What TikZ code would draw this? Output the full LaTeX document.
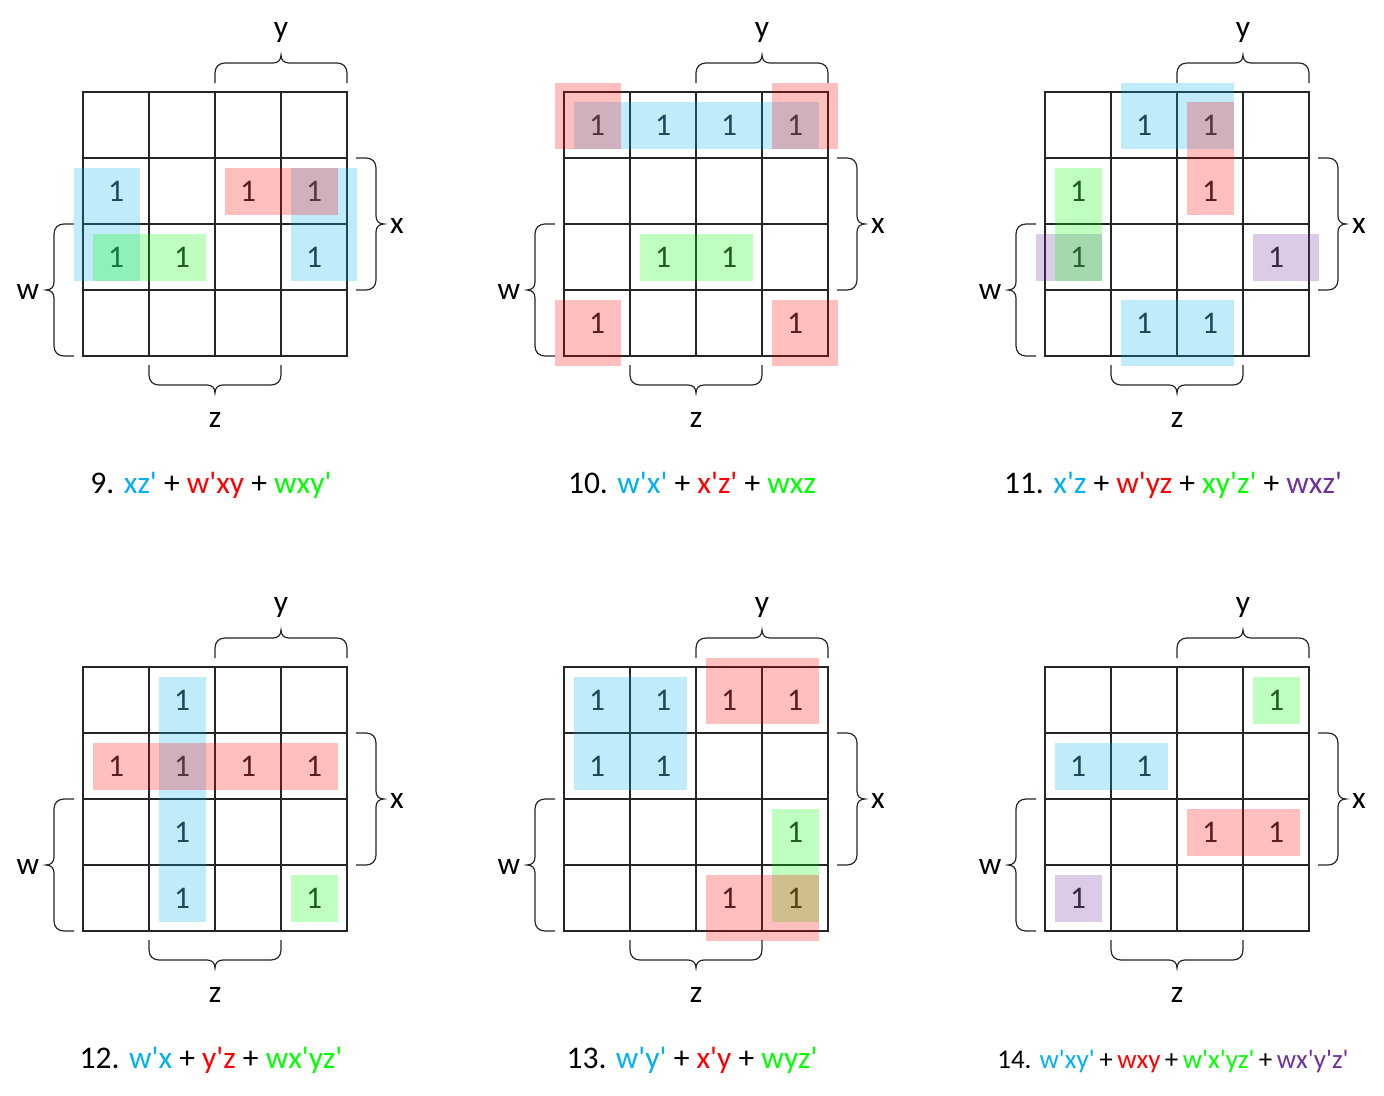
\documentclass[tikz,border=0pt]{standalone}
\usepackage{fontspec}
\setmainfont{Carlito}[Ligatures=TeXOff]
\definecolor{cblue}{RGB}{0,176,240}
\definecolor{cred}{RGB}{255,0,0}
\definecolor{cgreen}{RGB}{0,255,0}
\definecolor{cpurple}{RGB}{112,48,160}
\definecolor{ink}{RGB}{38,38,38}
\tikzset{
  gridline/.style={draw=ink, line width=1.4pt, line cap=rect},
  bracel/.style={draw=ink, line width=1.2pt},
  one/.style={font=\fontsize{31.5}{36}\selectfont, text=ink, inner sep=0pt},
  lbl/.style={font=\fontsize{31.5}{36}\selectfont, text=black, inner sep=0pt, anchor=base},
  expr/.style={font=\fontsize{31.5}{36}\selectfont, text=black, inner sep=0pt, anchor=base},
  ov/.style={fill=#1, fill opacity=0.25, draw=none},
}
\newcommand{\kmap}[6]{%
\begin{scope}[shift={(#2,#3)}]
  \foreach \k in {0,...,4}{
    \draw[gridline] (\k*66,0) -- (\k*66,264);
    \draw[gridline] (0,\k*66) -- (264,\k*66);
  }
  \foreach \r/\c in {#4}{
    \node[one] (#1-\r\c) at ({(\c-1)*66+33},{(\r-1)*66+33}) {1};
  }
  % y brace
  \draw[bracel] (132,-9) -- (132,-19) .. controls (132,-25) and (136,-29) .. (142,-29) -- (190,-29) .. controls (195,-29) and (198,-32) .. (198,-37) .. controls (198,-32) and (201,-29) .. (206,-29) -- (254,-29) .. controls (260,-29) and (264,-25) .. (264,-19) -- (264,-9);
  % x brace
  \draw[bracel] (273,66) -- (283,66) .. controls (289,66) and (293,70) .. (293,76) -- (293,124) .. controls (293,129) and (296,132) .. (301,132) .. controls (296,132) and (293,135) .. (293,140) -- (293,188) .. controls (293,194) and (289,198) .. (283,198) -- (273,198);
  % w brace
  \draw[bracel] (-9,132) -- (-19,132) .. controls (-25,132) and (-29,136) .. (-29,142) -- (-29,190) .. controls (-29,195) and (-32,198) .. (-37,198) .. controls (-32,198) and (-29,201) .. (-29,206) -- (-29,254) .. controls (-29,260) and (-25,264) .. (-19,264) -- (-9,264);
  % z brace
  \draw[bracel] (66,273) -- (66,283) .. controls (66,289) and (70,293) .. (76,293) -- (124,293) .. controls (129,293) and (132,296) .. (132,301) .. controls (132,296) and (135,293) .. (140,293) -- (188,293) .. controls (194,293) and (198,289) .. (198,283) -- (198,273);
  \node[lbl] (#1-y) at (198,-55) {y};
  \node[lbl] (#1-x) at (314,141.5) {x};
  \node[lbl] (#1-w) at (-55,207.5) {w};
  \node[lbl] (#1-z) at (132,335.5) {z};
  #5
  \node[expr] (#1-expr) at (128,401) {#6};
\end{scope}}
\begin{document}
\begin{tikzpicture}[x=1pt,y=-1pt]
\useasboundingbox (0,0) rectangle (1384,1095);
\fill[white] (0,0) rectangle (1384,1095);
% Map 9
\kmap{m9}{83}{92}{2/1,2/3,2/4,3/1,3/2,3/4}{%
  \fill[ov=cblue] (-9.5,75.5) rectangle (56.5,188.5);
  \fill[ov=cblue] (207.5,75.5) rectangle (273.5,188.5);
  \fill[ov=cgreen] (9.5,141.5) rectangle (122.5,188.5);
  \fill[ov=cred] (141.5,75.5) rectangle (254.5,122.5);
}{9. \textcolor{cblue}{xz'} + \textcolor{cred}{w'xy} + \textcolor{cgreen}{wxy'}}
% Map 10
\kmap{m10}{564}{92}{1/1,1/2,1/3,1/4,3/2,3/3,4/1,4/4}{%
  \fill[ov=cblue] (9.5,9.5) rectangle (254.5,56.5);
  \fill[ov=cgreen] (75.5,141.5) rectangle (188.5,188.5);
  \fill[ov=cred] (-9.5,-9.5) rectangle (56.5,56.5);
  \fill[ov=cred] (207.5,-9.5) rectangle (273.5,56.5);
  \fill[ov=cred] (-9.5,207.5) rectangle (56.5,273.5);
  \fill[ov=cred] (207.5,207.5) rectangle (273.5,273.5);
}{10. \textcolor{cblue}{w'x'} + \textcolor{cred}{x'z'} + \textcolor{cgreen}{wxz}}
% Map 11
\kmap{m11}{1045}{92}{1/2,1/3,2/1,2/3,3/1,3/4,4/2,4/3}{%
  \fill[ov=cblue] (75.5,-9.5) rectangle (188.5,56.5);
  \fill[ov=cblue] (75.5,207.5) rectangle (188.5,273.5);
  \fill[ov=cpurple] (-9.5,141.5) rectangle (56.5,188.5);
  \fill[ov=cpurple] (207.5,141.5) rectangle (273.5,188.5);
  \fill[ov=cgreen] (9.5,75.5) rectangle (56.5,188.5);
  \fill[ov=cred] (141.5,9.5) rectangle (188.5,122.5);
}{11. \textcolor{cblue}{x'z} + \textcolor{cred}{w'yz} + \textcolor{cgreen}{xy'z'} + \textcolor{cpurple}{wxz'}}
% Map 12
\kmap{m12}{83}{667}{1/2,2/1,2/2,2/3,2/4,3/2,4/2,4/4}{%
  \fill[ov=cblue] (75.5,9.5) rectangle (122.5,254.5);
  \fill[ov=cgreen] (207.5,207.5) rectangle (254.5,254.5);
  \fill[ov=cred] (9.5,75.5) rectangle (254.5,122.5);
}{12. \textcolor{cblue}{w'x} + \textcolor{cred}{y'z} + \textcolor{cgreen}{wx'yz'}}
% Map 13
\kmap{m13}{564}{667}{1/1,1/2,1/3,1/4,2/1,2/2,3/4,4/3,4/4}{%
  \fill[ov=cblue] (9.5,9.5) rectangle (122.5,122.5);
  \fill[ov=cgreen] (207.5,141.5) rectangle (254.5,254.5);
  \fill[ov=cred] (141.5,-9.5) rectangle (254.5,56.5);
  \fill[ov=cred] (141.5,207.5) rectangle (254.5,273.5);
}{13. \textcolor{cblue}{w'y'} + \textcolor{cred}{x'y} + \textcolor{cgreen}{wyz'}}
% Map 14
\kmap{m14}{1045}{667}{1/4,2/1,2/2,3/3,3/4,4/1}{%
  \fill[ov=cblue] (9.5,75.5) rectangle (122.5,122.5);
  \fill[ov=cpurple] (9.5,207.5) rectangle (56.5,254.5);
  \fill[ov=cgreen] (207.5,9.5) rectangle (254.5,56.5);
  \fill[ov=cred] (141.5,141.5) rectangle (254.5,188.5);
}{\fontsize{27}{32}\selectfont 14. \textcolor{cblue}{w'xy'}\hspace{4.5pt}+\hspace{4.5pt}\textcolor{cred}{wxy}\hspace{4.5pt}+\hspace{4.5pt}\textcolor{cgreen}{w'x'yz'}\hspace{4.5pt}+\hspace{4.5pt}\textcolor{cpurple}{wx'y'z'}}
\end{tikzpicture}
\end{document}
